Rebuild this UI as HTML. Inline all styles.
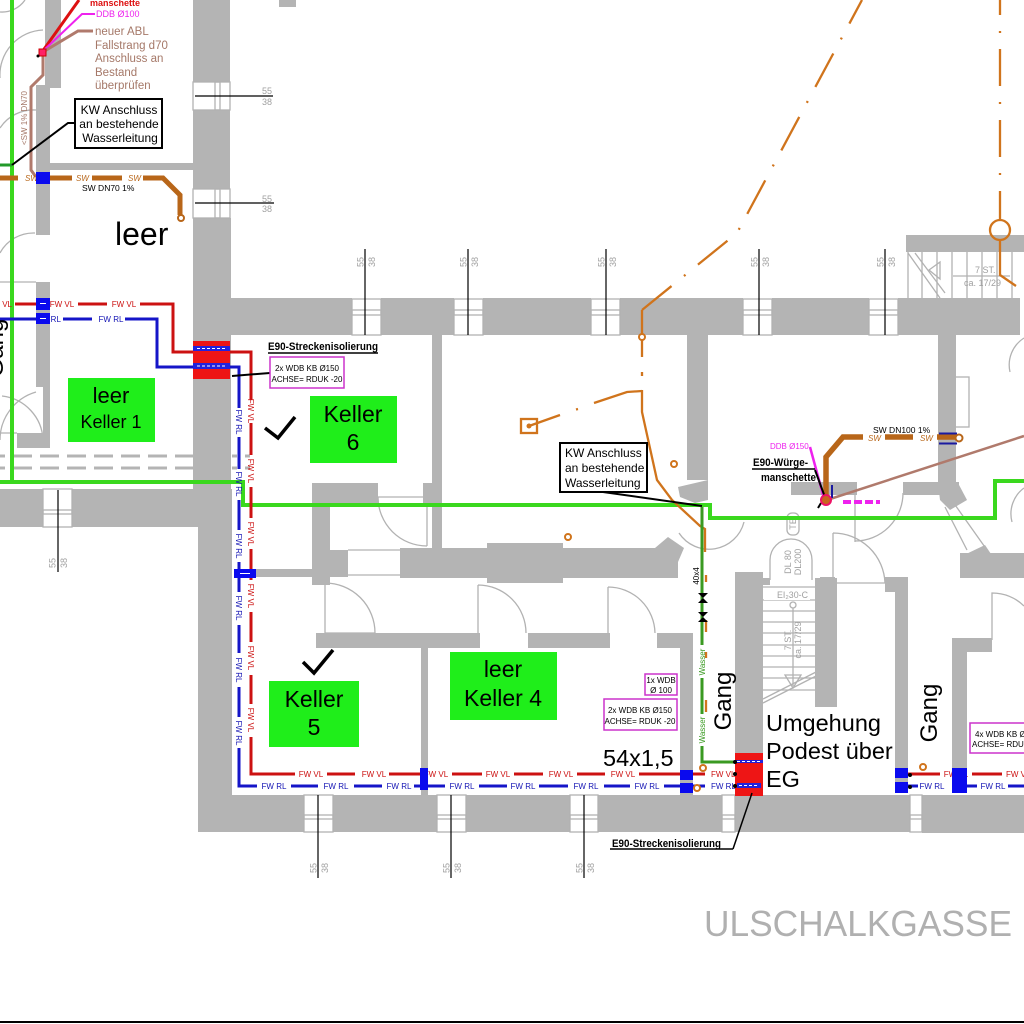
<!DOCTYPE html>
<html><head><meta charset="utf-8"><style>
html,body{margin:0;padding:0;background:#fff;}
svg{display:block;}
text{font-family:"Liberation Sans",sans-serif;}
.w{fill:#b4b4b4;}
.ln{fill:none;stroke:#b2b2b2;stroke-width:1.3;}
.dim{fill:#a0a0a0;font-size:9px;}
.rt{fill:#cc1111;font-size:8px;}
.bt{fill:#1414b4;font-size:8px;}
.sw{fill:#b86619;font-size:8px;font-style:italic;}
.k{fill:#000;}
.box{fill:#1fee1a;}
.mg{fill:#fff;stroke:#cc33cc;stroke-width:1.5;}
.sm{font-size:8px;fill:#000;}
.bsq{fill:#0a0aee;}
.oc{fill:#fff;stroke:#d0741c;stroke-width:2;}
</style></head><body>
<svg width="1024" height="1024" viewBox="0 0 1024 1024" xmlns="http://www.w3.org/2000/svg">
<rect width="1024" height="1024" fill="#fff"/>

<!-- light gray thin lines: doors, arcs -->
<g class="ln">
<path d="M0 12 A28 28 0 0 0 25 0"/>
<path d="M0 78 A45 45 0 0 1 43 30"/>
<path d="M0 128 A40 40 0 0 1 36 110"/>
<path d="M0 253 A38 38 0 0 1 35 233"/>
<path d="M0 282 H36 M0 433 H17"/>
<path d="M0 440 A50 50 0 0 1 36 392"/>
<path d="M2 396 A46 46 0 0 1 43 440"/>
<path d="M378 497 H427 V546 M378 497 A49 49 0 0 0 427 546"/>
<path d="M348 550 H400 M348 575 H400"/>
<path d="M325 583 V633 H375 M325 583 A50 50 0 0 1 375 633"/>
<path d="M478 585 V633 M478 585 A48 48 0 0 1 526 633"/>
<path d="M608 587 V633 M608 587 A47 47 0 0 1 655 633"/>
<path d="M855 493 V542 M903 493 A48 48 0 0 1 855 541"/>
<path d="M833 533 V583 H885 M833 533 A52 52 0 0 1 885 583"/>
<path d="M679 533 A36 36 0 0 0 744 522"/>
<path d="M945 507 L967 550 M953 502 L987 550"/>
<path d="M1024 338 A32 32 0 0 0 1010 372"/>
<path d="M1024 488 A32 32 0 0 0 1012 522"/>
<path d="M992 640 V593 A45 45 0 0 1 1024 606"/>
<rect x="955" y="377" width="14" height="50"/>
<rect x="787" y="513" width="12" height="22" rx="5"/>
<path d="M770 580 V560 A21 21 0 0 1 812 560 V580"/>
<!-- top right stair -->
<path d="M908 252 V300 M922 252 V300 M937 252 V300 M952 252 V300 M967 252 V300 M982 252 V300 M997 252 V300 M1012 252 V300"/>
<path d="M908 253 L940 298 M915 253 L945 293 M953 276 H1010"/>
<path d="M929 270 L940 262 L940 279 Z"/>
<!-- lower stair -->
<path d="M763 587 H815 M763 600 H815 M763 611 H815 M763 622 H815 M763 633 H815 M763 645 H815 M763 656 H815 M763 667 H815 M763 678 H815 M763 690 H815"/>
<path d="M793 608 V686 M763 703 L822 673 M763 699 L818 671"/>
<circle cx="793" cy="605" r="3"/>
<path d="M785 675 H801 L793 688 Z"/>
</g>
<g fill="#fff"><rect x="764" y="591" width="46" height="9"/></g>
<text x="777" y="598" class="dim" textLength="31" lengthAdjust="spacingAndGlyphs">EI₂30-C</text>
<text class="dim" transform="translate(791,640) rotate(-90)" text-anchor="middle">7 ST.</text>
<text class="dim" transform="translate(801,640) rotate(-90)" text-anchor="middle">ca. 17/29</text>
<text class="dim" transform="translate(791,562) rotate(-90)" text-anchor="middle" font-size="8">DL 80</text>
<text class="dim" transform="translate(801,562) rotate(-90)" text-anchor="middle" font-size="8">DL200</text>
<text class="dim" transform="translate(796,524) rotate(-90)" text-anchor="middle" font-size="7">TE</text>
<text x="975" y="273" class="dim">7 ST.</text>
<text x="964" y="286" class="dim">ca. 17/29</text>

<!-- walls -->
<g class="w">
<rect x="45" y="0" width="16" height="88"/>
<rect x="36" y="85" width="14" height="150"/>
<rect x="36" y="163" width="157" height="7"/>
<rect x="36" y="282" width="14" height="105"/>
<rect x="43" y="387" width="7" height="46"/>
<rect x="17" y="433" width="33" height="15"/>
<rect x="279" y="0" width="17" height="7"/>
<rect x="193" y="0" width="37" height="82"/>
<rect x="193" y="110" width="37" height="79"/>
<rect x="193" y="218" width="38" height="271"/>
<rect x="198" y="489" width="34" height="343"/>
<rect x="0" y="489" width="43" height="38"/>
<rect x="72" y="489" width="126" height="38"/>
<rect x="230" y="298" width="122" height="37"/>
<rect x="381" y="298" width="73" height="37"/>
<rect x="483" y="298" width="108" height="37"/>
<rect x="620" y="298" width="123" height="37"/>
<rect x="772" y="298" width="97" height="37"/>
<rect x="898" y="298" width="122" height="37"/>
<rect x="906" y="235" width="118" height="17"/>
<rect x="432" y="335" width="10" height="213"/>
<rect x="423" y="483" width="19" height="20"/>
<rect x="312" y="483" width="66" height="20"/>
<rect x="312" y="503" width="18" height="82"/>
<rect x="330" y="550" width="18" height="27"/>
<rect x="255" y="569" width="57" height="8"/>
<rect x="400" y="548" width="278" height="30"/>
<rect x="487" y="543" width="76" height="40"/>
<polygon points="655,548 668,537 684,548 678,562 660,560"/>
<rect x="687" y="335" width="21" height="145"/>
<polygon points="678,487 708,480 708,500 695,503 680,497"/>
<rect x="791" y="482" width="66" height="13"/>
<rect x="903" y="482" width="56" height="13"/>
<rect x="938" y="335" width="18" height="148"/>
<polygon points="938,483 958,483 967,500 950,510 940,500"/>
<polygon points="962,556 985,545 995,560 995,578 968,578"/>
<rect x="960" y="553" width="64" height="25"/>
<rect x="820" y="577" width="15" height="43"/>
<rect x="885" y="577" width="23" height="15"/>
<rect x="895" y="577" width="13" height="216"/>
<rect x="735" y="572" width="28" height="181"/>
<rect x="762" y="578" width="8" height="7"/>
<rect x="815" y="578" width="22" height="129"/>
<rect x="680" y="635" width="13" height="160"/>
<rect x="316" y="633" width="164" height="15"/>
<rect x="528" y="633" width="82" height="15"/>
<rect x="657" y="633" width="36" height="15"/>
<rect x="421" y="648" width="7" height="147"/>
<rect x="952" y="638" width="15" height="135"/>
<rect x="952" y="638" width="40" height="14"/>
<rect x="198" y="795" width="106" height="37"/>
<rect x="333" y="795" width="104" height="37"/>
<rect x="466" y="795" width="104" height="37"/>
<rect x="598" y="795" width="124" height="37"/>
<rect x="735" y="795" width="175" height="37"/>
<rect x="922" y="795" width="102" height="38"/>
</g>
<!-- dashed gray double lines -->
<path d="M0 456 H195 M0 468 H195 M232 456 H250 M232 468 H250" stroke="#b4b4b4" stroke-width="3" stroke-dasharray="19 8" stroke-dashoffset="14" fill="none"/>

<!-- window glyphs -->
<g class="ln">
<rect x="352" y="299" width="29" height="36"/><rect x="352" y="310" width="29" height="5"/>
<rect x="454" y="299" width="29" height="36"/><rect x="454" y="310" width="29" height="5"/>
<rect x="591" y="299" width="29" height="36"/><rect x="591" y="310" width="29" height="5"/>
<rect x="743" y="299" width="29" height="36"/><rect x="743" y="310" width="29" height="5"/>
<rect x="869" y="299" width="29" height="36"/><rect x="869" y="310" width="29" height="5"/>
<rect x="193" y="82" width="37" height="28"/><rect x="215" y="82" width="5" height="28"/>
<rect x="193" y="189" width="37" height="29"/><rect x="215" y="189" width="5" height="29"/>
<rect x="43" y="489" width="29" height="38"/><rect x="43" y="510" width="29" height="4"/>
<rect x="304" y="795" width="29" height="37"/><rect x="304" y="815" width="29" height="4"/>
<rect x="437" y="795" width="29" height="37"/><rect x="437" y="815" width="29" height="4"/>
<rect x="570" y="795" width="28" height="37"/><rect x="570" y="815" width="28" height="4"/>
<rect x="722" y="795" width="13" height="37"/><rect x="722" y="815" width="13" height="4"/>
<rect x="910" y="795" width="12" height="37"/><rect x="910" y="815" width="12" height="4"/>
</g>

<!-- dimension lines -->
<g stroke="#000" stroke-width="1.2" fill="none">
<path d="M365 249 V335 M468 249 V335 M606 249 V335 M759 249 V335 M885 249 V335"/>
<path d="M318 795 V878 M451 795 V878 M584 795 V878 M58 490 V572"/>
<path d="M195 96 H273 M195 203 H274"/>
</g>
<g class="dim">
<text transform="translate(363.5,262) rotate(-90)" text-anchor="middle">55</text><text transform="translate(375,262) rotate(-90)" text-anchor="middle">38</text>
<text transform="translate(466.5,262) rotate(-90)" text-anchor="middle">55</text><text transform="translate(478,262) rotate(-90)" text-anchor="middle">38</text>
<text transform="translate(604.5,262) rotate(-90)" text-anchor="middle">55</text><text transform="translate(616,262) rotate(-90)" text-anchor="middle">38</text>
<text transform="translate(757.5,262) rotate(-90)" text-anchor="middle">55</text><text transform="translate(769,262) rotate(-90)" text-anchor="middle">38</text>
<text transform="translate(883.5,262) rotate(-90)" text-anchor="middle">55</text><text transform="translate(895,262) rotate(-90)" text-anchor="middle">38</text>
<text transform="translate(316.5,868) rotate(-90)" text-anchor="middle">55</text><text transform="translate(328,868) rotate(-90)" text-anchor="middle">38</text>
<text transform="translate(449.5,868) rotate(-90)" text-anchor="middle">55</text><text transform="translate(461,868) rotate(-90)" text-anchor="middle">38</text>
<text transform="translate(582.5,868) rotate(-90)" text-anchor="middle">55</text><text transform="translate(594,868) rotate(-90)" text-anchor="middle">38</text>
<text transform="translate(55.5,563) rotate(-90)" text-anchor="middle">55</text><text transform="translate(67,563) rotate(-90)" text-anchor="middle">38</text>
<text x="262" y="94">55</text><text x="262" y="105">38</text>
<text x="262" y="202">55</text><text x="262" y="212">38</text>
</g>

<!-- green main line -->
<path d="M12 0 V482 M0 482 H243 V505 H710 V518 H995 V481 H1024" stroke="#3ad81e" stroke-width="4" fill="none"/>
<path d="M0 165 H12" stroke="#22992a" stroke-width="3"/>

<!-- orange lines -->
<g fill="none" stroke="#d0741c" stroke-width="2.3">
<path d="M642 310 L737 233 L862 0" stroke-dasharray="38 16 2 16"/>
<path d="M1000 -22 V220" stroke-dasharray="37 16 2 16"/>
<circle cx="1000" cy="230" r="10"/>
<path d="M1000 240 V275 L1016 286"/>
<path d="M642 310 V357"/>
<path d="M642 372 V376"/>
<path d="M642 390 V412 L657 480 L672 500 L700 526 L705 529 V552"/>
<path d="M529 426 L560 415 M576 409.5 L578 409 M594 403 L627 392 L642 391"/>
<rect x="521" y="419" width="16" height="14"/>
<path d="M706 575 V582 M706 620 V632 M706 652 V658 M706 700 V712"/>
</g>
<circle cx="529" cy="426" r="2.5" fill="#d0741c"/>
<circle cx="642" cy="337" r="3" class="oc"/>
<circle cx="674" cy="464" r="3" class="oc"/>
<circle cx="568" cy="537" r="3" class="oc"/>

<!-- water pipe -->
<path d="M702 507 V645 M702 678 V714 M702 746 V762 H735" stroke="#3a9a22" stroke-width="3" fill="none"/>
<path d="M698 593 H708 L698 603 H708 Z M698 612 H708 L698 622 H708 Z" fill="#000"/>
<text transform="translate(699,576) rotate(-90)" text-anchor="middle" class="sm">40x4</text>
<text transform="translate(705,662) rotate(-90)" text-anchor="middle" font-size="8" fill="#3a9a22">Wasser</text>
<text transform="translate(705,730) rotate(-90)" text-anchor="middle" font-size="8" fill="#3a9a22">Wasser</text>

<!-- top-left ABL / red / magenta -->
<path d="M42 52 L79 0" stroke="#dd1111" stroke-width="3"/>
<path d="M42 52 L82 14 H95" stroke="#ee22ee" stroke-width="2" fill="none"/>
<path d="M93 31 H78 L43 52 V75 L31 87 V170 L36 177" stroke="#b07a6c" stroke-width="3" fill="none"/>
<rect x="39" y="49" width="7" height="7" fill="#ff2266" stroke="#cc0000"/>
<circle cx="38" cy="56" r="1.5" fill="#000"/>
<text x="90" y="6" font-size="9" font-weight="bold" fill="#dd1111">manschette</text>
<text x="96" y="17" font-size="9" fill="#ee22ee">DDB Ø100</text>
<g font-size="11.5" fill="#a57868">
<text x="95" y="35">neuer ABL</text>
<text x="95" y="49">Fallstrang d70</text>
<text x="95" y="62">Anschluss an</text>
<text x="95" y="76">Bestand</text>
<text x="95" y="89">überprüfen</text>
</g>
<text transform="translate(27,118) rotate(-90)" text-anchor="middle" font-size="8" fill="#a57868">&lt;SW 1% DN70</text>

<!-- KW box 1 -->
<path d="M12 165 L68 123 H75" stroke="#000" stroke-width="2" fill="none"/>
<rect x="75" y="99" width="87" height="49" fill="#fff" stroke="#000" stroke-width="2"/>
<g font-size="12" text-anchor="middle" fill="#000">
<text x="119" y="114">KW Anschluss</text>
<text x="119" y="128">an bestehende</text>
<text x="120" y="142">Wasserleitung</text>
</g>

<!-- SW pipe top-left -->
<path d="M0 178 H18 M50 178 H72 M92 178 H122 M143 178 H163 L180 195 V215" stroke="#b86619" stroke-width="5" fill="none"/>
<circle cx="181" cy="218" r="3" fill="#fff" stroke="#b86619" stroke-width="2"/>
<text x="25" y="181" class="sw">SW</text><text x="76" y="181" class="sw">SW</text><text x="128" y="181" class="sw">SW</text>
<text x="82" y="191" font-size="8.5" fill="#000">SW DN70 1%</text>
<rect x="36" y="172" width="14" height="12" class="bsq"/>

<!-- red / blue pipes -->
<path d="M15 304 H36 M78 304 H107 M140 304 H173 V352 H251 V400 M251 423 V455 M251 487 V518 M251 549 V580 M251 612 V642 M251 675 V704 M251 737 V774 H295 M327 774 H355 M389 774 H420 M452 774 H482 M514 774 H543 M577 774 H605 M639 774 H705 M908 774 H940 M972 774 H1002" stroke="#cc1111" stroke-width="3" fill="none"/>
<path d="M0 319 H36 M63 319 H92 M125 319 H157 V367 H239 V408 M239 437 V469 M239 500 V530 M239 562 V592 M239 625 V653 M239 687 V717 M239 748 V786 H257 M291 786 H318 M354 786 H382 M414 786 H445 M479 786 H507 M539 786 H568 M604 786 H630 M664 786 H705 M908 786 H918 M965 786 H977 M1008 786 H1024" stroke="#1515c8" stroke-width="3" fill="none"/>

<!-- horizontal pipe labels -->
<text x="12" y="307" class="rt" text-anchor="end">FW VL</text>
<text x="62" y="307" class="rt" text-anchor="middle">FW VL</text>
<text x="124" y="307" class="rt" text-anchor="middle">FW VL</text>
<text x="36" y="322" class="bt">FW RL</text>
<text x="111" y="322" class="bt" text-anchor="middle">FW RL</text>
<g class="rt" text-anchor="middle">
<text x="311" y="777">FW VL</text><text x="374" y="777">FW VL</text><text x="436" y="777">FW VL</text>
<text x="498" y="777">FW VL</text><text x="561" y="777">FW VL</text><text x="623" y="777">FW VL</text>
<text x="956" y="777">FW VL</text>
</g>
<text x="711" y="777" class="rt">FW VL</text>
<text x="1006" y="777" class="rt">FW VL</text>
<g class="bt" text-anchor="middle">
<text x="274" y="789">FW RL</text><text x="336" y="789">FW RL</text><text x="399" y="789">FW RL</text>
<text x="462" y="789">FW RL</text><text x="523" y="789">FW RL</text><text x="586" y="789">FW RL</text>
<text x="647" y="789">FW RL</text><text x="932" y="789">FW RL</text><text x="993" y="789">FW RL</text>
</g>
<text x="711" y="789" class="bt">FW RL</text>
<!-- vertical pipe labels -->
<g class="rt" text-anchor="middle">
<text transform="translate(248,411) rotate(90)">FW VL</text>
<text transform="translate(248,471) rotate(90)">FW VL</text>
<text transform="translate(248,534) rotate(90)">FW VL</text>
<text transform="translate(248,596) rotate(90)">FW VL</text>
<text transform="translate(248,658) rotate(90)">FW VL</text>
<text transform="translate(248,720) rotate(90)">FW VL</text>
</g>
<g class="bt" text-anchor="middle">
<text transform="translate(236,422) rotate(90)">FW RL</text>
<text transform="translate(236,484) rotate(90)">FW RL</text>
<text transform="translate(236,546) rotate(90)">FW RL</text>
<text transform="translate(236,608) rotate(90)">FW RL</text>
<text transform="translate(236,670) rotate(90)">FW RL</text>
<text transform="translate(236,733) rotate(90)">FW RL</text>
</g>

<!-- blue squares -->
<g class="bsq">
<rect x="36" y="298" width="14" height="12"/>
<rect x="36" y="313" width="14" height="11"/>
<rect x="234" y="569" width="22" height="9"/>
<rect x="420" y="768" width="8" height="22"/>
<rect x="680" y="770" width="13" height="10"/>
<rect x="680" y="783" width="13" height="10"/>
<rect x="895" y="768" width="13" height="10"/>
<rect x="895" y="782" width="13" height="11"/>
<rect x="952" y="768" width="15" height="25"/>
</g>
<g fill="#fff"><rect x="40" y="303" width="6" height="1"/><rect x="40" y="318" width="6" height="1"/><rect x="240" y="573" width="10" height="1"/></g>
<circle cx="703" cy="768" r="3" class="oc"/>
<circle cx="697" cy="788" r="3" class="oc"/>
<circle cx="923" cy="767" r="3" class="oc"/>

<!-- fire box top -->
<rect x="193" y="341" width="37" height="38" fill="#ee1515"/>
<rect x="193" y="346" width="37" height="5" fill="#2222dd"/>
<rect x="193" y="363" width="37" height="6" fill="#2222dd"/>
<path d="M197 348.5 H226 M197 366 H226" stroke="#fff" stroke-width="1" stroke-dasharray="3 2"/>
<path d="M232 376 L270 373" stroke="#000" stroke-width="2"/>
<text x="268" y="350" font-size="11" font-weight="bold" textLength="110" lengthAdjust="spacingAndGlyphs">E90-Streckenisolierung</text>
<path d="M268 353 H378" stroke="#000" stroke-width="1.5"/>

<!-- fire box bottom -->
<rect x="735" y="753" width="28" height="43" fill="#ee1515"/>
<path d="M735 761.5 H763" stroke="#2222dd" stroke-width="3"/>
<path d="M737 761.5 H761" stroke="#fff" stroke-width="1" stroke-dasharray="3 2"/>
<rect x="737" y="783" width="24" height="5" fill="#2222dd"/>
<path d="M739 785.5 H759" stroke="#fff" stroke-width="1" stroke-dasharray="3 2"/>
<g fill="#000"><circle cx="735" cy="762" r="2"/><circle cx="735" cy="774" r="2"/><circle cx="735" cy="786" r="2"/><circle cx="910" cy="775" r="2"/><circle cx="910" cy="787" r="2"/></g>
<path d="M733 849 L752 793 M610 849 H733" stroke="#000" stroke-width="1.5" fill="none"/>
<text x="612" y="847" font-size="11" font-weight="bold" textLength="109" lengthAdjust="spacingAndGlyphs">E90-Streckenisolierung</text>

<!-- right SW and ABL -->
<path d="M827 500 L1024 436" stroke="#b07a6c" stroke-width="2.5"/>
<path d="M826 500 V457 L843 437 H863 M885 437 H913 M937 437 H957" stroke="#b86619" stroke-width="5.5" fill="none"/>
<path d="M939 433.5 H957 M939 443.5 H957" stroke="#1a1aa0" stroke-width="2"/>
<circle cx="959" cy="438" r="3.5" fill="#fff" stroke="#b86619" stroke-width="2"/>
<text x="868" y="441" class="sw">SW</text><text x="920" y="441" class="sw">SW</text>
<text x="873" y="433" font-size="8.5" fill="#000">SW DN100 1%</text>
<path d="M825 502 L810 447" stroke="#ee22ee" stroke-width="2.5"/>
<text x="770" y="449" font-size="8" fill="#ee22ee">DDB Ø150</text>
<path d="M832 485 V498" stroke="#1a1aa0" stroke-width="2"/>
<path d="M815 470 L826 500 M821 503 L818 508" stroke="#000" stroke-width="2"/>
<text x="753" y="466" font-size="11" font-weight="bold" textLength="55" lengthAdjust="spacingAndGlyphs">E90-Würge-</text>
<path d="M752 469 H815" stroke="#000" stroke-width="1.5"/>
<text x="761" y="481" font-size="11" font-weight="bold" textLength="55" lengthAdjust="spacingAndGlyphs">manschette</text>
<circle cx="826" cy="500" r="5" fill="#c8641e" stroke="#ee1166" stroke-width="2"/>
<path d="M843 502 H880" stroke="#ee22ee" stroke-width="4" stroke-dasharray="8 3"/>

<!-- KW box 2 -->
<path d="M603 492 L702 506" stroke="#000" stroke-width="2"/>
<rect x="560" y="443" width="87" height="49" fill="#fff" stroke="#000" stroke-width="2"/>
<g font-size="12" fill="#000">
<text x="565" y="457">KW Anschluss</text>
<text x="565" y="472">an bestehende</text>
<text x="565" y="487">Wasserleitung</text>
</g>

<!-- magenta boxes -->
<rect x="270" y="357" width="74" height="31" class="mg"/>
<text x="307" y="371" class="sm" text-anchor="middle">2x WDB KB Ø150</text>
<text x="307" y="382" class="sm" text-anchor="middle">ACHSE= RDUK -20</text>
<rect x="645" y="674" width="32" height="21" class="mg"/>
<text x="661" y="683" class="sm" text-anchor="middle">1x WDB</text>
<text x="661" y="693" class="sm" text-anchor="middle">Ø 100</text>
<rect x="604" y="699" width="73" height="31" class="mg"/>
<text x="640" y="713" class="sm" text-anchor="middle">2x WDB KB Ø150</text>
<text x="640" y="724" class="sm" text-anchor="middle">ACHSE= RDUK -20</text>
<rect x="970" y="723" width="60" height="30" class="mg"/>
<text x="975" y="737" class="sm">4x WDB KB Ø150</text>
<text x="972" y="747" class="sm">ACHSE= RDUK -20</text>

<!-- green room boxes -->
<rect x="68" y="378" width="87" height="64" class="box"/>
<text x="111" y="403" font-size="22" text-anchor="middle">leer</text>
<text x="111" y="428" font-size="18" text-anchor="middle">Keller 1</text>
<rect x="310" y="396" width="87" height="67" class="box"/>
<text x="353" y="422" font-size="23" text-anchor="middle">Keller</text>
<text x="353" y="450" font-size="23" text-anchor="middle">6</text>
<rect x="269" y="681" width="90" height="66" class="box"/>
<text x="314" y="707" font-size="23" text-anchor="middle">Keller</text>
<text x="314" y="735" font-size="23" text-anchor="middle">5</text>
<rect x="450" y="652" width="107" height="68" class="box"/>
<text x="503" y="677" font-size="23" text-anchor="middle">leer</text>
<text x="503" y="706" font-size="23" text-anchor="middle">Keller 4</text>

<!-- checkmarks -->
<path d="M265 428 L278 438 L295 417" stroke="#000" stroke-width="3.5" fill="none"/>
<path d="M303 662 L314 673 L333 650" stroke="#000" stroke-width="3.5" fill="none"/>

<!-- big labels -->
<text x="115" y="245" font-size="32">leer</text>
<text transform="translate(3,348) rotate(-90)" text-anchor="middle" font-size="24">Gang</text>
<text transform="translate(731,701) rotate(-90)" text-anchor="middle" font-size="24">Gang</text>
<text transform="translate(937,713) rotate(-90)" text-anchor="middle" font-size="24">Gang</text>
<text x="766" y="731" font-size="23.5">Umgehung</text>
<text x="766" y="759" font-size="23.5">Podest über</text>
<text x="766" y="787" font-size="23.5">EG</text>
<text x="603" y="766" font-size="23.5">54x1,5</text>
<text x="704" y="936" font-size="36" fill="#b0b0b0" textLength="308" lengthAdjust="spacingAndGlyphs">ULSCHALKGASSE</text>

<!-- bottom border line -->
<path d="M0 1022 H1024" stroke="#000" stroke-width="2"/>
</svg>
</body></html>
